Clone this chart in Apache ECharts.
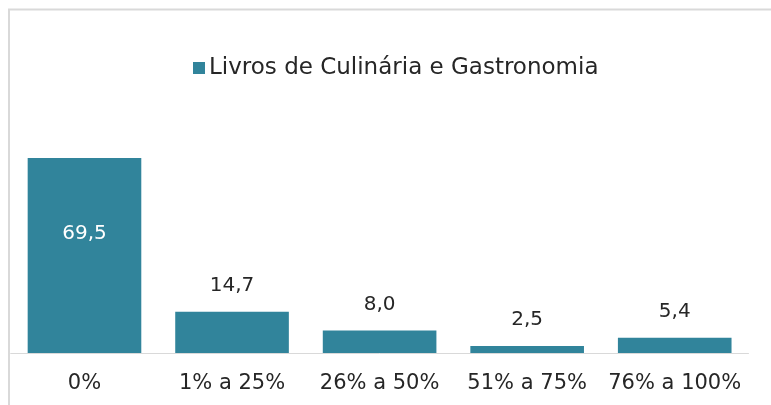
<!doctype html>
<html>
<head>
<meta charset="utf-8">
<title>Livros de Culinária e Gastronomia</title>
<script src="https://cdn.jsdelivr.net/npm/echarts@6/dist/echarts.min.js"></script>
<style>
html, body { margin: 0; padding: 0; background: #fff; }
#chart { width: 771px; height: 405px; }
</style>
</head>
<body>
<div id="chart"></div>
<script>
// dados
var categorias = ['0%', '1% a 25%', '26% a 50%', '51% a 75%', '76% a 100%'];
var valores = [69.5, 14.7, 8.0, 2.5, 5.4];
var serieNome = 'Livros de Culinária e Gastronomia';

var fonte = 'DejaVu Sans';
var chart = echarts.init(document.getElementById('chart'));

var option = {
	animation: false,
	textStyle: { fontFamily: fonte },
	graphic: [{
		type: 'rect',
		shape: { x: 9, y: 9.5, width: 900, height: 600 },
		style: { fill: 'none', stroke: '#d9d9d9', lineWidth: 2 },
		silent: true
	}],
	legend: {
		top: 51.5,
		left: 188,
		itemWidth: 12,
		itemHeight: 12,
		itemGap: 10,
		icon: 'rect',
		textStyle: { fontSize: 23, color: '#262626', fontFamily: fonte, padding: [0, 0, 0, -1] },
		data: [serieNome]
	},
	grid: {
		left: 10.7,
		right: 22.5,
		top: 128.5,
		bottom: 52,
		containLabel: false
	},
	xAxis: {
		type: 'category',
		data: categorias,
		axisTick: { show: false },
		axisLine: { show: true, lineStyle: { color: '#d9d9d9', width: 1 } },
		axisLabel: { color: '#262626', fontSize: 21, margin: 20, interval: 0 }
	},
	yAxis: {
		type: 'value',
		min: 0,
		max: 80,
		show: false
	},
	series: [{
		name: serieNome,
		type: 'bar',
		data: valores.map(function (v, i) {
			if (i === 0) {
				return {
					value: v,
					label: { position: 'insideTop', distance: 66, color: '#fff' }
				};
			}
			return v;
		}),
		barCategoryGap: '23%',
		itemStyle: { color: '#31849B' },
		label: {
			show: true,
			position: 'top',
			distance: 16,
			fontSize: 20,
			color: '#262626',
			formatter: function (p) {
				return p.value.toFixed(1).replace('.', ',');
			}
		}
	}]
};

chart.setOption(option);
</script>
</body>
</html>
